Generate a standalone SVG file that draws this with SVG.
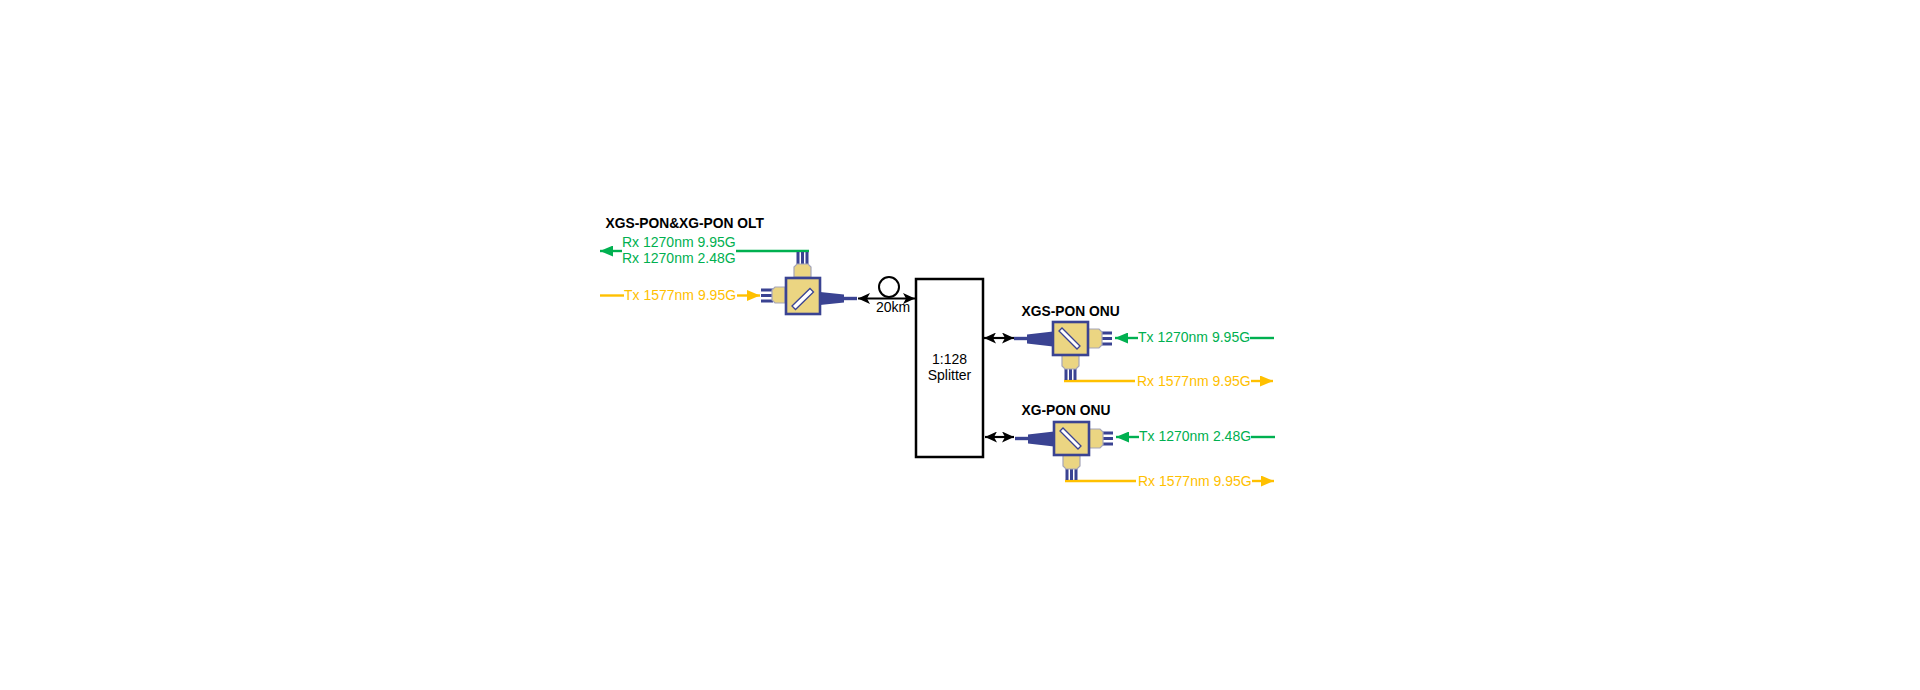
<svg xmlns="http://www.w3.org/2000/svg" width="1920" height="690" viewBox="0 0 1920 690">
<style>
text{font-family:"Liberation Sans",Arial,sans-serif;font-size:14px}
.t{font-weight:bold;font-size:13.8px;fill:#000}
.g{fill:#00B050}.o{fill:#FFC000}.k{fill:#000}
.lg{stroke:#00B050;stroke-width:2.4;fill:none}
.lo{stroke:#FFC000;stroke-width:2.4;fill:none}
.lk{stroke:#000;stroke-width:2.2;fill:none}
.box{fill:#EBD582;stroke:#3A4392;stroke-width:2.6}
.port{fill:#EBD582;stroke:#A5A5B8;stroke-width:1.2}
.fib{stroke:#3A4392;stroke-width:3;fill:none}
.tap{fill:#3A4392}
.thin{stroke:#3A4392;stroke-width:3.4;fill:none}
.slot{fill:#fff;stroke:#3A4392;stroke-width:1.3}
</style>
<defs>
<marker id="ag" markerUnits="userSpaceOnUse" markerWidth="13" markerHeight="11" refX="13" refY="5.500" orient="auto-start-reverse"><path d="M0 0L13 5.500L0 11Z" fill="#00B050"/></marker>
<marker id="ao" markerUnits="userSpaceOnUse" markerWidth="13" markerHeight="11" refX="13" refY="5.500" orient="auto-start-reverse"><path d="M0 0L13 5.500L0 11Z" fill="#FFC000"/></marker>
<marker id="ak" markerUnits="userSpaceOnUse" markerWidth="12" markerHeight="11" refX="12" refY="5.500" orient="auto-start-reverse"><path d="M0 0L12 5.500L0 11L3 5.500Z" fill="#000"/></marker>
<g id="onu">
<path class="fib" d="M48 11H59M48 16.500H59M48 22H59"/>
<path class="fib" d="M13 46V58M17.500 46V58M22 46V58"/>
<path class="port" d="M35 7H46L49 10V23L46 26H35Z"/>
<path class="port" d="M9 33V44L12 47H23L26 44V33Z"/>
<path class="tap" d="M0 9.500V24.500L-26 21.500V12.500Z"/>
<path class="thin" d="M-26 16.500H-39"/>
<rect class="box" width="35" height="33"/>
<path class="slot" d="M6 9L9 6L27 24L24 27Z"/>
</g>
</defs>
<g id="connectors">
<path class="lg" marker-end="url(#ag)" d="M622 251H600"/>
<path class="lg" d="M736 251H809"/>
<path class="lo" d="M600 295.500H624"/>
<path class="lo" marker-end="url(#ao)" d="M737 295.500H760"/>
<path class="lk" marker-start="url(#ak)" marker-end="url(#ak)" d="M858 298.500H915"/>
<path class="lk" marker-start="url(#ak)" marker-end="url(#ak)" d="M984 338H1014"/>
<path class="lk" marker-start="url(#ak)" marker-end="url(#ak)" d="M985 437H1014"/>
<path class="lg" marker-end="url(#ag)" d="M1138 338H1115"/>
<path class="lg" d="M1250 338H1274"/>
<path class="lo" d="M1064 381H1135"/>
<path class="lo" marker-end="url(#ao)" d="M1251 381H1273"/>
<path class="lg" marker-end="url(#ag)" d="M1139 437H1116"/>
<path class="lg" d="M1251 437H1275"/>
<path class="lo" d="M1065 481H1136"/>
<path class="lo" marker-end="url(#ao)" d="M1252 481H1274"/>
</g>
<g id="olt">
<text class="t" x="605.500" y="228">XGS-PON&amp;XG-PON OLT</text>
<text class="g" x="622" y="247">Rx 1270nm 9.95G</text>
<text class="g" x="622" y="263">Rx 1270nm 2.48G</text>
<text class="o" x="624" y="300">Tx 1577nm 9.95G</text>
<path class="fib" d="M798 252V265M802.500 252V265M807 252V265"/>
<path class="fib" d="M761 290H773M761 295.500H773M761 301H773"/>
<path class="port" d="M794 277V267L797 264H808L811 267V277Z"/>
<path class="port" d="M785 287H775L772 290V300L775 303H785Z"/>
<path class="tap" d="M820 292V305L844 302.500V294.500Z"/>
<path class="thin" d="M844 298.500H857"/>
<rect class="box" x="786" y="278" width="34" height="36"/>
<path class="slot" d="M792 306L810 288.500L813.500 292L795.500 309.500Z"/>
</g>
<g id="fiber">
<circle cx="889" cy="287" r="10" fill="#fff" stroke="#000" stroke-width="2"/>
<text class="k" x="876" y="312">20km</text>
</g>
<g id="splitter">
<rect x="916" y="279" width="67" height="178" fill="#fff" stroke="#000" stroke-width="2.5"/>
<text class="k" x="949.500" y="364" text-anchor="middle">1:128</text>
<text class="k" x="949.500" y="380" text-anchor="middle">Splitter</text>
</g>
<g id="onu1">
<text class="t" x="1021.500" y="316">XGS-PON ONU</text>
<use href="#onu" x="1053" y="322"/>
<text class="g" x="1138" y="342">Tx 1270nm 9.95G</text>
<text class="o" x="1137" y="386">Rx 1577nm 9.95G</text>
</g>
<g id="onu2">
<text class="t" x="1021.500" y="415">XG-PON ONU</text>
<use href="#onu" x="1054" y="422"/>
<text class="g" x="1139" y="441">Tx 1270nm 2.48G</text>
<text class="o" x="1138" y="486">Rx 1577nm 9.95G</text>
</g>
</svg>
